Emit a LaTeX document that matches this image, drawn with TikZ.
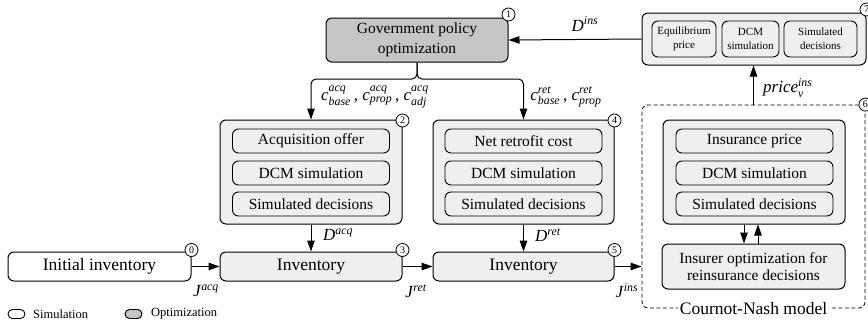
\documentclass[tikz,border=0pt]{standalone}
\usepackage{amsmath}
\usepackage{fontspec}
\setmainfont{Liberation Serif}
\newfontfamily\tnr{Liberation Serif}
\usetikzlibrary{arrows.meta}
\definecolor{boxfill}{HTML}{EFEFF1}
\definecolor{optfill}{HTML}{C6C6C6}
\newcommand\vsym[3]{\textit{#1}$^{\textit{#2}}_{\textit{#3}}$}
\tikzset{
  outer/.style={draw, rounded corners=6pt, fill=boxfill, line width=1pt},
  inner/.style={draw, rounded corners=6pt, fill=boxfill, line width=0.9pt,
    minimum width=157pt, minimum height=24pt, inner sep=0pt,
    font=\tnr\fontsize{15.5}{18}\selectfont},
  small/.style={draw, rounded corners=6pt, fill=boxfill, line width=0.9pt,
    minimum height=36pt, inner sep=0pt, align=center,
    font=\tnr\fontsize{11}{14}\selectfont},
  num/.style={draw, circle, fill=white, minimum size=13pt, inner sep=0pt,
    font=\tnr\fontsize{10}{10}\selectfont, line width=0.8pt},
  arr/.style={-{Triangle[length=11pt,width=7.5pt]}, line width=1pt},
  lbl/.style={font=\tnr\fontsize{17}{20}\selectfont, inner sep=0pt},
  big/.style={font=\tnr\fontsize{17.5}{20}\selectfont}
}
\begin{document}
\begin{tikzpicture}[x=1pt,y=-1pt]
\useasboundingbox (0,0) rectangle (868,327);

% dashed Cournot-Nash box
\node[draw, dashed, dash pattern=on 4pt off 2.5pt, rounded corners=6pt, line width=0.8pt,
  minimum width=223pt, minimum height=203pt, inner sep=0pt] (cn) at (753.5,206.5) {};

% government
\node[outer, fill=optfill, minimum width=182pt, minimum height=44pt, align=center,
  inner sep=0pt, font=\tnr\fontsize{15.5}{20}\selectfont] (gov) at (417,40)
  {Government policy\\optimization};

% box 7
\node[outer, minimum width=224pt, minimum height=52pt] (b7) at (754,39) {};
\node[small, minimum width=64pt] (eq) at (684,39) {Equilibrium\\price};
\node[small, minimum width=57pt] (dcm7) at (750.5,39) {DCM\\simulation};
\node[small, minimum width=73pt] (sim7) at (820.5,39) {Simulated\\decisions};

% box 2
\node[outer, minimum width=182pt, minimum height=104pt] (b2) at (311,172) {};
\node[inner] (acq) at (311,141) {Acquisition offer};
\node[inner] (dcm2) at (311,173) {DCM simulation};
\node[inner] (sim2) at (311,204) {Simulated decisions};

% box 4
\node[outer, minimum width=181pt, minimum height=104pt] (b4) at (523.5,172) {};
\node[inner] (ret) at (523.5,141) {Net retrofit cost};
\node[inner] (dcm4) at (523.5,173) {DCM simulation};
\node[inner] (sim4) at (523.5,204) {Simulated decisions};

% group in 6
\node[outer, minimum width=182pt, minimum height=104pt] (g6) at (754,172) {};
\node[inner] (ipr) at (754.5,141) {Insurance price};
\node[inner] (dcm6) at (754.5,173) {DCM simulation};
\node[inner] (sim6) at (754.5,204) {Simulated decisions};
\node[outer, minimum width=183pt, minimum height=45pt, align=center, inner sep=0pt,
  font=\tnr\fontsize{15.5}{17.5}\selectfont] (ins) at (753.5,266.5)
  {Insurer optimization for\\reinsurance decisions};

% inventories
\node[outer, fill=white, minimum width=183pt, minimum height=29pt, inner sep=0pt, big] (init) at (99.5,266.5) {Initial inventory};
\node[outer, minimum width=182pt, minimum height=29pt, inner sep=0pt, big] (inv3) at (311,266.5) {Inventory};
\node[outer, minimum width=181pt, minimum height=29pt, inner sep=0pt, big] (inv5) at (523.5,266.5) {Inventory};

% connectors
\draw[arr, rounded corners=5pt] (gov.south) -- (417,79) -| (b2.north);
\draw[arr, rounded corners=5pt] (gov.south) -- (417,79) -| (b4.north);
\draw[arr] (b7.west) -- (gov.east);
\draw[arr] (cn.north) -- (b7.south -| cn.north);
\draw[arr] (b2.south) -- (inv3.north);
\draw[arr] (b4.south) -- (inv5.north);
\draw[arr] (init.east) -- (inv3.west);
\draw[arr] (inv3.east) -- (inv5.west);
\draw[arr] (inv5.east) -- (inv5.east -| cn.west);
\draw[arr] ([xshift=-10pt]g6.south) -- ([xshift=-10pt]g6.south |- ins.north);
\draw[arr] ([xshift=4pt]g6.south |- ins.north) -- ([xshift=4pt]g6.south);

% labels
\node[lbl] (lacq) at (375,97) {\vsym{c}{acq}{base}\,, \vsym{c}{acq}{prop}\,, \vsym{c}{acq}{adj}};
\node[lbl] (lret) at (566,97) {\vsym{c}{ret}{base}\,, \vsym{c}{ret}{prop}};
\node[lbl] (ldins) at (585,24) {\textit{D}$^{\textit{ins}}$};
\node[lbl, anchor=west] (lprice) at (763,88) {\vsym{price}{ins}{v}};
\node[lbl, anchor=west] (ldacq) at (323,235) {\textit{D}$^{\textit{acq}}$};
\node[lbl, anchor=west] (ldret) at (535,235) {\textit{D}$^{\textit{ret}}$};
\node[lbl] (ljacq) at (206,291) {\textit{J}$^{\textit{acq}}$};
\node[lbl] (ljret) at (416,291) {\textit{J}$^{\textit{ret}}$};
\node[lbl] (ljins) at (627,291) {\textit{J}$^{\textit{ins}}$};
\node[fill=white, inner sep=2pt, big] (cnl) at (cn.south) {Cournot-Nash model};

% number circles
\node[num] (n0) at ([yshift=1.5pt]init.north east) {0};
\node[num] (n1) at ([yshift=3pt]gov.north east) {1};
\node[num] (n2) at ([yshift=-1pt]b2.north east) {2};
\node[num] (n3) at ([yshift=1.5pt]inv3.north east) {3};
\node[num] (n4) at ([yshift=-1pt]b4.north east) {4};
\node[num] (n5) at ([yshift=1.5pt]inv5.north east) {5};
\node[num] (n6) at (cn.north east) {6};
\node[num] (n7) at ([yshift=3pt]b7.north east) {7};

% legend
\node[draw, fill=white, rounded corners=4.5pt, minimum width=17pt, minimum height=9pt, inner sep=0pt, line width=0.9pt] (lg1) at (16.5,314) {};
\node[anchor=west, inner sep=0pt, font=\tnr\fontsize{12.5}{14}\selectfont] (lg1t) at (33,314) {Simulation};
\node[draw, fill=optfill, rounded corners=4.5pt, minimum width=17pt, minimum height=9pt, inner sep=0pt, line width=0.9pt] (lg2) at (133.5,314) {};
\node[anchor=west, inner sep=0pt, font=\tnr\fontsize{12.5}{14}\selectfont] (lg2t) at (151,314) {Optimization};
\end{tikzpicture}
\end{document}
